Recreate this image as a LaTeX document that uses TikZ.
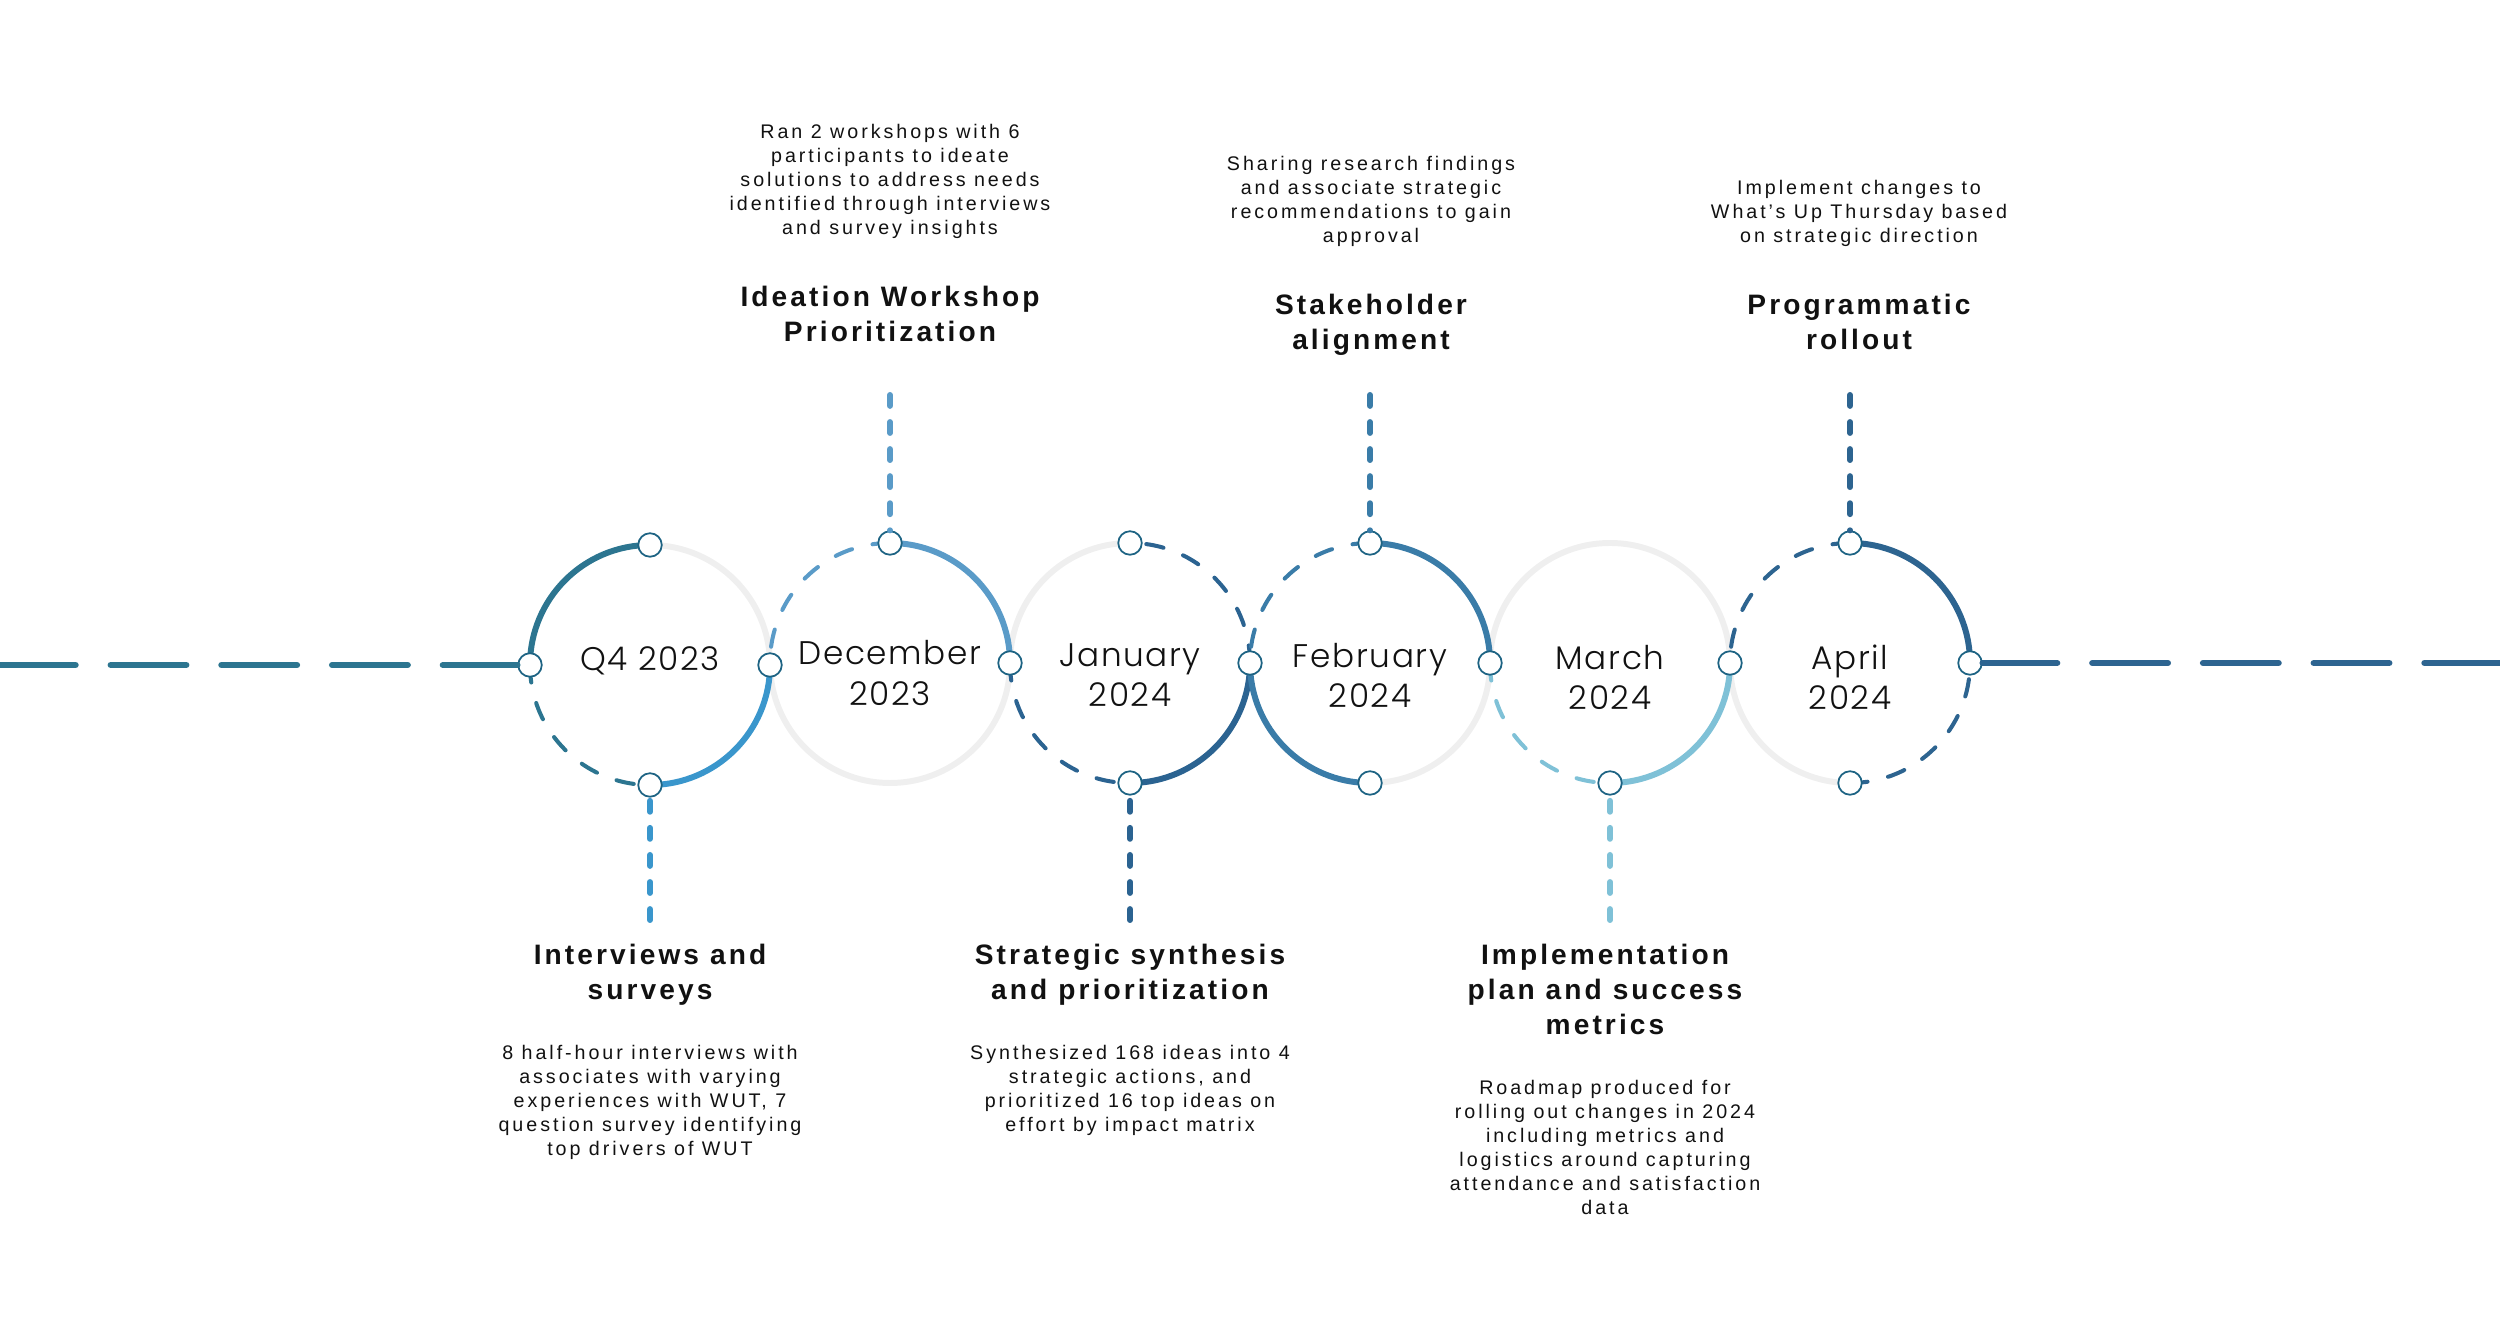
\documentclass[tikz,border=0pt]{standalone}
\usepackage{fontspec}
\setmainfont{Liberation Sans}
\newfontfamily\titlefont[LetterSpace=11]{Liberation Sans}
\newfontfamily\notefont[LetterSpace=15]{Liberation Sans}
\newfontfamily\datefont[LetterSpace=5]{Poppins Light}
\usetikzlibrary{positioning}

\definecolor{qteal}{HTML}{2C7590}
\definecolor{qblue}{HTML}{3A96CC}
\definecolor{decblue}{HTML}{5A9BC8}
\definecolor{janblue}{HTML}{2B6391}
\definecolor{febblue}{HTML}{3A7CA8}
\definecolor{marblue}{HTML}{7FC1D7}
\definecolor{aprblue}{HTML}{2D6490}
\definecolor{ringgray}{HTML}{EFEFEF}
\definecolor{dotline}{HTML}{1D6383}
\definecolor{inktext}{HTML}{111111}

\tikzset{
    ring/.style={line width=1.7pt, draw=ringgray},
    solidarc/.style={line width=1.7pt, draw=#1},
    dasharc/.style={line width=1.15pt, draw=#1, line cap=round, dash pattern=on 5pt off 6pt},
    stemline/.style={line width=1.7pt, draw=#1, line cap=round, dash pattern=on 3.1pt off 4.6pt},
    axisline/.style={line width=1.8pt, draw=#1, line cap=round, dash pattern=on 21.5pt off 10pt},
    milestone/.style={circle, draw=dotline, fill=white, line width=0.5pt, minimum size=0.235cm, inner sep=0pt},
    datelabel/.style={font=\datefont\fontsize{9.3}{11.4}\selectfont, align=center, text=inktext},
    steptitle/.style={font=\titlefont\bfseries\fontsize{8}{9.96}\selectfont, align=center, inner sep=0pt, text=inktext},
    stepnote/.style={font=\notefont\fontsize{5.6}{6.83}\selectfont, align=center, inner sep=0pt, text=inktext}
}

\begin{document}
\begin{tikzpicture}[scale=1]
    % Khung hình
    \useasboundingbox (0,0) rectangle (25,13.25);

    % Tâm các vòng tròn
    \coordinate (c1) at (6.50,6.60);
    \coordinate (c2) at (8.90,6.62);
    \coordinate (c3) at (11.30,6.62);
    \coordinate (c4) at (13.70,6.62);
    \coordinate (c5) at (16.10,6.62);
    \coordinate (c6) at (18.50,6.62);

    % Phần vòng màu xám
    \foreach \c/\a in {c1/0, c2/180, c2/270, c3/90, c4/270, c5/0, c5/90, c6/180}
    \draw[ring] ([shift={(\a:1.2)}]\c) arc (\a:\a+90:1.2);

    % Cung liền
    \foreach \c/\a/\col in {c1/90/qteal, c1/270/qblue, c2/0/decblue, c3/270/janblue, c4/0/febblue, c4/180/febblue, c5/270/marblue, c6/0/aprblue}
    \draw[solidarc=\col] ([shift={(\a:1.2)}]\c) arc (\a:\a+90:1.2);

    % Cung nét đứt
    \foreach \c/\a/\col in {c1/180/qteal, c2/90/decblue, c3/0/janblue, c3/180/janblue, c4/90/febblue, c5/180/marblue, c6/90/aprblue, c6/270/aprblue}
    \draw[dasharc=\col] ([shift={(\a:1.2)}]\c) arc (\a:\a+90:1.2);

    % Các điểm mốc
    \foreach \c/\a/\n in {c1/180/q4L, c1/90/q4T, c1/0/q4R, c1/270/q4B, c2/90/decT, c2/0/decR, c3/90/janT, c3/0/janR, c3/270/janB, c4/90/febT, c4/0/febR, c4/270/febB, c5/0/marR, c5/270/marB, c6/90/aprT, c6/0/aprR, c6/270/aprB}
    \node[milestone] (\n) at ([shift={(\a:1.2)}]\c) {};

    % Trục ngang hai bên
    \coordinate (lineStart) at (0,6.60);
    \coordinate (lineEnd) at (25,6.62);
    \draw[axisline=qteal] (lineStart) -- (q4L);
    \draw[axisline=aprblue] (lineEnd) -- (aprR);

    % Nhãn thời gian
    \node[datelabel] (q4Date) at ([yshift=0.4mm]c1) {Q4 2023};
    \node[datelabel] (decDate) at ([yshift=-1.0mm]c2) {December\\2023};
    \node[datelabel] (janDate) at ([yshift=-1.2mm]c3) {January\\2024};
    \node[datelabel] (febDate) at ([yshift=-1.2mm]c4) {February\\2024};
    \node[datelabel] (marDate) at ([yshift=-1.4mm]c5) {March\\2024};
    \node[datelabel] (aprDate) at ([yshift=-1.4mm]c6) {April\\2024};

    % Đường dóng dọc
    \coordinate (decTop) at (8.90,9.30);
    \coordinate (febTop) at (13.70,9.30);
    \coordinate (aprTop) at (18.50,9.30);
    \coordinate (q4Foot) at (6.50,4.05);
    \coordinate (janFoot) at (11.30,4.05);
    \coordinate (marFoot) at (16.10,4.05);
    \draw[stemline=decblue] (decTop) -- (decT);
    \draw[stemline=febblue] (febTop) -- (febT);
    \draw[stemline=aprblue] (aprTop) -- (aprT);
    \draw[stemline=qblue] (q4Foot) -- (q4B);
    \draw[stemline=janblue] (janFoot) -- (janB);
    \draw[stemline=marblue] (marFoot) -- (marB);

    % Các bước phía trên
    \node[steptitle, anchor=north] (decTitle) at (8.90,10.40) {Ideation Workshop\\Prioritization};
    \node[stepnote, above=0.46cm of decTitle] (decNote) {Ran 2 workshops with 6\\participants to ideate\\solutions to address needs\\identified through interviews\\and survey insights};
    \node[steptitle, anchor=north] (febTitle) at (13.71,10.32) {Stakeholder\\alignment};
    \node[stepnote, above=0.46cm of febTitle] (febNote) {Sharing research findings\\and associate strategic\\recommendations to gain\\approval};
    \node[steptitle, anchor=north] (aprTitle) at (18.59,10.32) {Programmatic\\rollout};
    \node[stepnote, above=0.46cm of aprTitle] (aprNote) {Implement changes to\\What’s Up Thursday based\\on strategic direction};

    % Các bước phía dưới
    \node[steptitle, anchor=north] (q4Title) at (6.50,3.82) {Interviews and\\surveys};
    \node[stepnote, below=0.39cm of q4Title] (q4Note) {8 half-hour interviews with\\associates with varying\\experiences with WUT, 7\\question survey identifying\\top drivers of WUT};
    \node[steptitle, anchor=north] (janTitle) at (11.30,3.82) {Strategic synthesis\\and prioritization};
    \node[stepnote, below=0.39cm of janTitle] (janNote) {Synthesized 168 ideas into 4\\strategic actions, and\\prioritized 16 top ideas on\\effort by impact matrix};
    \node[steptitle, anchor=north] (marTitle) at (16.05,3.82) {Implementation\\plan and success\\metrics};
    \node[stepnote, below=0.44cm of marTitle] (marNote) {Roadmap produced for\\rolling out changes in 2024\\including metrics and\\logistics around capturing\\attendance and satisfaction\\data};
\end{tikzpicture}
\end{document}
